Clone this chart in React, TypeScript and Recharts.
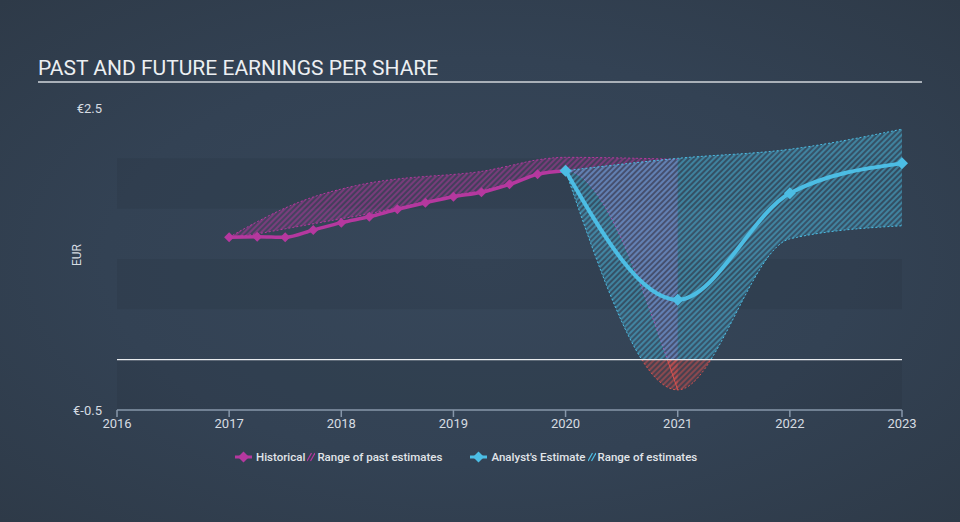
import React from "react";
import {
  ComposedChart,
  Line,
  Area,
  XAxis,
  YAxis,
  ReferenceArea,
  ReferenceLine,
} from "recharts";

const W = 960;
const H = 522;
const MARGIN = { top: 108, right: 58, bottom: 82, left: 57 };
const Y_AXIS_W = 60;
const X_AXIS_H = 30;
const Y_DOMAIN: [number, number] = [-0.5, 2.5];

const MAGENTA = "#b5389f";
const CYAN = "#4cbde4";
const RED = "#d9524f";
const TEXT = "#d6dce2";
const FONT = "Roboto, 'Noto Sans', sans-serif";

// historical EPS, quarterly
const histYears = [
  2017, 2017.25, 2017.5, 2017.75, 2018, 2018.25, 2018.5, 2018.75, 2019,
  2019.25, 2019.5, 2019.75, 2020,
];
const histEps = [
  1.216, 1.222, 1.216, 1.288, 1.361, 1.42, 1.494, 1.559, 1.619, 1.663, 1.742,
  1.841, 1.877,
];

// range of past estimates
const pastYears = [
  2017, 2017.25, 2017.5, 2017.75, 2018, 2018.25, 2018.5, 2018.75, 2019,
  2019.25, 2019.5, 2019.75, 2020, 2021,
];
const pastLow = [
  1.216, 1.25, 1.3, 1.35, 1.4, 1.45, 1.51, 1.57, 1.63, 1.68, 1.75, 1.84, 1.877,
  -0.3,
];
const pastHigh = [
  1.216, 1.37, 1.507, 1.616, 1.695, 1.755, 1.795, 1.82, 1.84, 1.87, 1.926,
  1.985, 2.01, 1.99,
];

// analyst estimates
const estYears = [2020, 2021, 2022, 2023];
const estEps = [1.877, 0.595, 1.653, 1.95];
const estLow = [1.877, -0.3, 1.2, 1.33];
const estHigh = [1.877, 2.0, 2.09, 2.29];

const yearTicks = [2016, 2017, 2018, 2019, 2020, 2021, 2022, 2023];
const yTicks = [-0.5, 2.5];
const bands: [number, number][] = [
  [1.5, 2],
  [0.5, 1],
  [-0.5, 0],
];

type Row = {
  year: number;
  hist?: number;
  past?: [number, number];
  est?: number;
  range?: [number, number];
};

const rowsByYear: Record<string, Row> = {};
const row = (y: number) => (rowsByYear[y] ??= { year: y });
histYears.forEach((y, i) => (row(y).hist = histEps[i]));
pastYears.forEach((y, i) => (row(y).past = [pastLow[i], pastHigh[i]]));
estYears.forEach((y, i) => {
  row(y).est = estEps[i];
  row(y).range = [estLow[i], estHigh[i]];
});
const data = Object.values(rowsByYear).sort((a, b) => a.year - b.year);

// pixel row of the zero line, used only to split the fills into red / normal
const plotH = H - MARGIN.top - MARGIN.bottom - X_AXIS_H;
const zeroY =
  MARGIN.top + ((Y_DOMAIN[1] - 0) / (Y_DOMAIN[1] - Y_DOMAIN[0])) * plotH;

const diamond = (color: string, r: number) => (props: any) => {
  const { cx, cy, index } = props;
  if (cx == null || cy == null) return <g key={index} />;
  return (
    <path
      key={index}
      d={`M${cx},${cy - r}L${cx + r},${cy}L${cx},${cy + r}L${cx - r},${cy}Z`}
      fill={color}
    />
  );
};

function Hatch({ id, color }: { id: string; color: string }) {
  return (
    <pattern
      id={id}
      width="4"
      height="4"
      patternUnits="userSpaceOnUse"
      patternTransform="rotate(45)"
    >
      <rect width="4" height="4" fill={color} fillOpacity={0.14} />
      <line x1="1" y1="0" x2="1" y2="4" stroke={color} strokeWidth={1.4} strokeOpacity={0.65} />
    </pattern>
  );
}

function LineIcon({ color }: { color: string }) {
  return (
    <svg width="17" height="12" style={{ marginRight: 4 }}>
      <line x1="0" y1="6" x2="17" y2="6" stroke={color} strokeWidth="3" />
      <path d="M8.5,0.5L14,6L8.5,11.5L3,6Z" fill={color} />
    </svg>
  );
}

function HatchIcon({ color }: { color: string }) {
  return (
    <svg width="8" height="12" style={{ margin: "0 2px 0 2px" }}>
      <line x1="0" y1="10" x2="4.5" y2="2" stroke={color} strokeWidth="1.2" />
      <line x1="3.5" y1="10" x2="8" y2="2" stroke={color} strokeWidth="1.2" />
    </svg>
  );
}

function LegendRow() {
  const item = { display: "flex", alignItems: "center" } as const;
  return (
    <div
      style={{
        position: "absolute",
        left: 235,
        top: 450,
        display: "flex",
        alignItems: "center",
        gap: 28,
        fontFamily: FONT,
        fontSize: 11.5,
        fontWeight: 500,
        color: "#e1e5e9",
      }}
    >
      <div style={item}>
        <LineIcon color={MAGENTA} />
        <span>Historical</span>
        <HatchIcon color={MAGENTA} />
        <span>Range of past estimates</span>
      </div>
      <div style={item}>
        <LineIcon color={CYAN} />
        <span>Analyst's Estimate</span>
        <HatchIcon color={CYAN} />
        <span>Range of estimates</span>
      </div>
    </div>
  );
}

export default function App() {
  return (
    <div
      style={{
        position: "absolute",
        left: 0,
        top: 0,
        width: W,
        height: H,
        overflow: "hidden",
        background:
          "radial-gradient(ellipse at 50% 50%, #37475a 0%, #334254 55%, #2e3a48 100%)",
        fontFamily: FONT,
      }}
    >
      <div
        style={{
          position: "absolute",
          left: 38,
          top: 55,
          fontSize: 21,
          lineHeight: "26px",
          color: "#eceff2",
          whiteSpace: "nowrap",
        }}
      >
        PAST AND FUTURE EARNINGS PER SHARE
      </div>
      <div
        style={{
          position: "absolute",
          left: 38,
          top: 81,
          width: 884,
          height: 2,
          background: "#a9b0b8",
        }}
      />
      <div
        style={{
          position: "absolute",
          left: 62,
          top: 248,
          width: 30,
          textAlign: "center",
          fontSize: 12,
          color: TEXT,
          transform: "rotate(-90deg)",
        }}
      >
        EUR
      </div>

      <div style={{ position: "absolute", left: 0, top: 0 }}>
        <ComposedChart width={W} height={H} data={data} margin={MARGIN}>
          <defs>
            <Hatch id="hatchMagenta" color={MAGENTA} />
            <Hatch id="hatchCyan" color={CYAN} />
            <Hatch id="hatchRed" color={RED} />
            <mask id="maskAbove" maskUnits="userSpaceOnUse" x="0" y="0" width={W} height={H}>
              <rect x="0" y="0" width={W} height={zeroY} fill="white" />
            </mask>
            <mask id="maskBelow" maskUnits="userSpaceOnUse" x="0" y="0" width={W} height={H}>
              <rect x="0" y={zeroY} width={W} height={H - zeroY} fill="white" />
            </mask>
          </defs>

          {bands.map(([a, b]) => (
            <ReferenceArea
              key={a}
              y1={a}
              y2={b}
              fill="#000"
              fillOpacity={0.06}
              stroke="none"
              ifOverflow="hidden"
            />
          ))}

          <XAxis
            dataKey="year"
            type="number"
            domain={[2016, 2023]}
            ticks={yearTicks}
            interval={0}
            height={X_AXIS_H}
            tick={{ fill: TEXT, fontSize: 13, fontFamily: FONT }}
            axisLine={{ stroke: "#8797aa", strokeWidth: 1.5 }}
            tickLine={{ stroke: "#8797aa", strokeWidth: 1.5 }}
            tickSize={7}
          />
          <YAxis
            type="number"
            domain={Y_DOMAIN}
            ticks={yTicks}
            interval={0}
            width={Y_AXIS_W}
            axisLine={false}
            tickLine={false}
            tickSize={0}
            tickMargin={15}
            tickFormatter={(v: number) => `€${v}`}
            tick={{ fill: TEXT, fontSize: 13, fontFamily: FONT }}
          />

          <Area
            dataKey="past"
            type="monotone"
            connectNulls
            fill="url(#hatchMagenta)"
            fillOpacity={1}
            stroke={MAGENTA}
            strokeWidth={1}
            strokeDasharray="2 2"
            mask="url(#maskAbove)"
            dot={false}
            activeDot={false}
            isAnimationActive={false}
          />
          <Area
            dataKey="range"
            type="monotone"
            connectNulls
            fill="url(#hatchCyan)"
            fillOpacity={1}
            stroke={CYAN}
            strokeWidth={1}
            strokeDasharray="2 2"
            mask="url(#maskAbove)"
            dot={false}
            activeDot={false}
            isAnimationActive={false}
          />
          <Area
            dataKey="past"
            type="monotone"
            connectNulls
            fill="url(#hatchRed)"
            fillOpacity={1}
            stroke={RED}
            strokeWidth={1}
            mask="url(#maskBelow)"
            dot={false}
            activeDot={false}
            isAnimationActive={false}
          />
          <Area
            dataKey="range"
            type="monotone"
            connectNulls
            fill="url(#hatchRed)"
            fillOpacity={1}
            stroke={RED}
            strokeWidth={1}
            strokeDasharray="2 2"
            mask="url(#maskBelow)"
            dot={false}
            activeDot={false}
            isAnimationActive={false}
          />

          <ReferenceLine y={0} stroke="#e9ecef" strokeWidth={1.2} />

          <Line
            dataKey="hist"
            type="monotone"
            connectNulls
            stroke={MAGENTA}
            strokeWidth={3.5}
            dot={diamond(MAGENTA, 5)}
            activeDot={false}
            isAnimationActive={false}
          />
          <Line
            dataKey="est"
            type="monotone"
            connectNulls
            stroke={CYAN}
            strokeWidth={4}
            dot={diamond(CYAN, 6)}
            activeDot={false}
            isAnimationActive={false}
          />
        </ComposedChart>
      </div>

      <LegendRow />
    </div>
  );
}
